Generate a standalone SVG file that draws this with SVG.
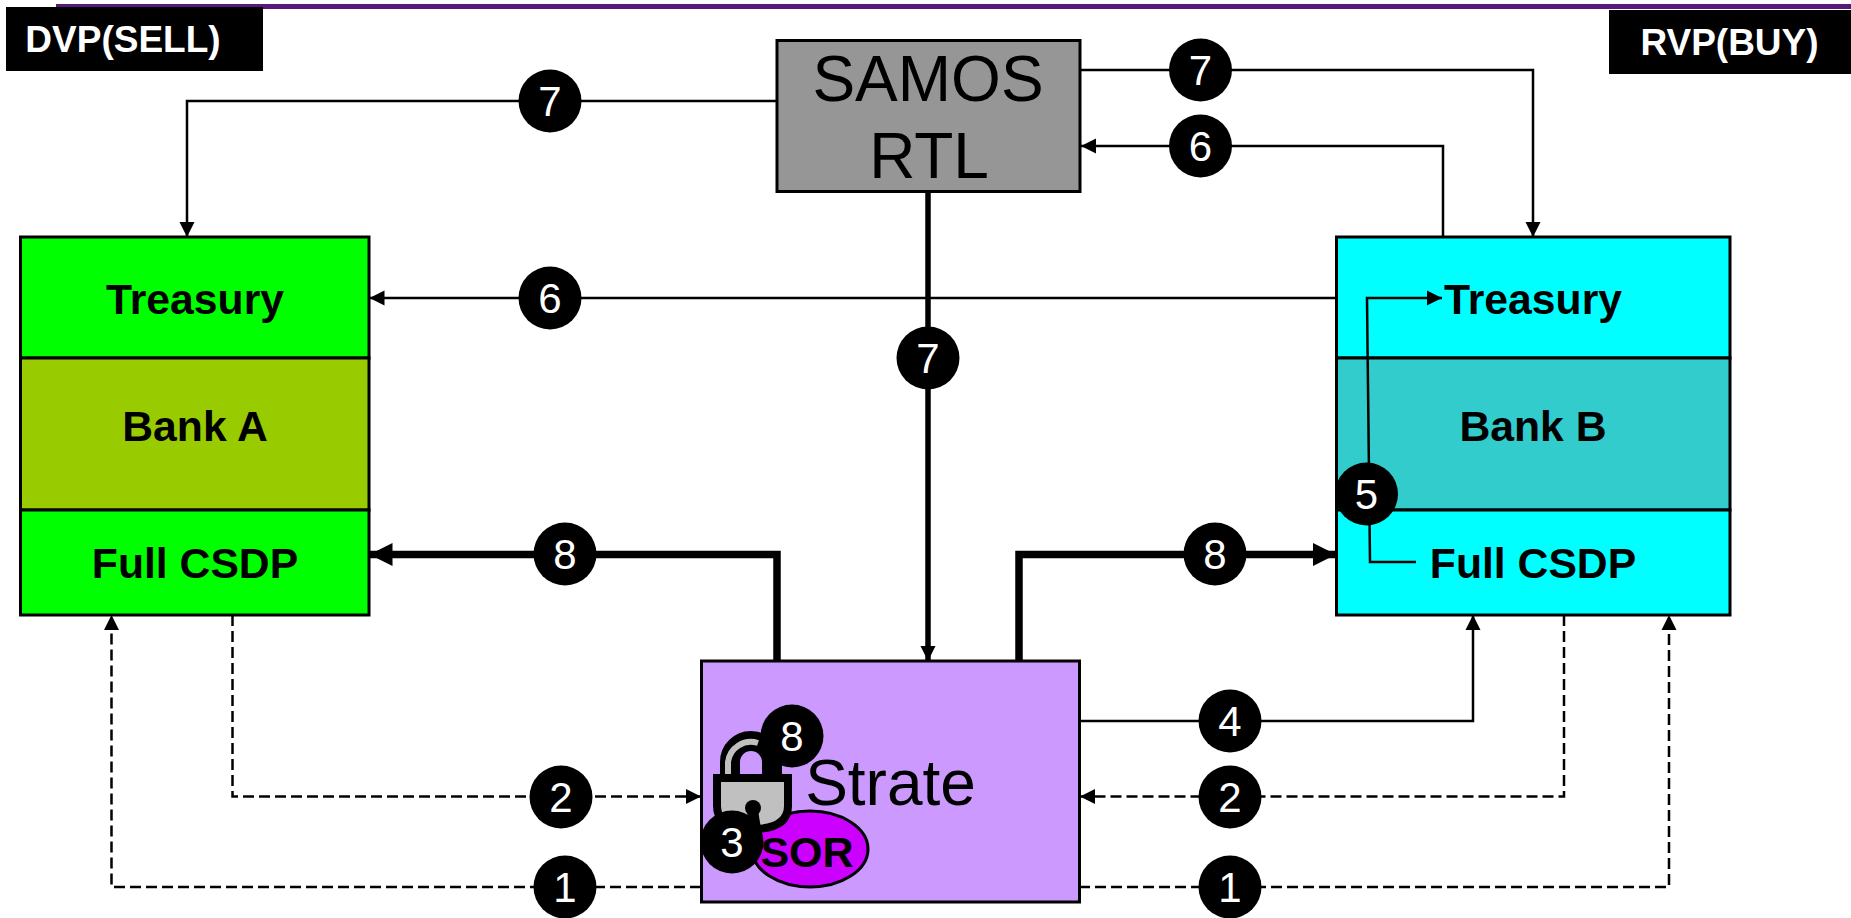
<svg xmlns="http://www.w3.org/2000/svg" width="1851" height="918" viewBox="0 0 1851 918">
<style>
text{font-family:"Liberation Sans",Arial,sans-serif;text-anchor:middle}
.b{font-weight:bold;font-size:42.7px;fill:#000}
.box{stroke:#000;stroke-width:3}
.tag{font-weight:bold;font-size:37px;fill:#fff}
.big{font-size:64px;fill:#000}
.n{font-size:42px;fill:#fff}
.c{fill:none;stroke:#000;stroke-width:2.5}
.m{fill:none;stroke:#000;stroke-width:5.5}
.t{fill:none;stroke:#000;stroke-width:7.5}
.d{fill:none;stroke:#000;stroke-width:2.5;stroke-dasharray:11 5}
</style>
<defs>
<marker id="a" markerUnits="userSpaceOnUse" markerWidth="15" markerHeight="16" refX="15" refY="8" orient="auto"><path d="M0 0.5L15 8L0 15.5Z" fill="#000"/></marker>
<marker id="at" markerUnits="userSpaceOnUse" markerWidth="24" markerHeight="24" refX="23" refY="12" orient="auto"><path d="M0 0.5L23 12L0 23.5Z" fill="#000"/></marker>
<g id="num"><circle r="31.5" fill="#000"/></g>
</defs>
<rect x="56" y="4" width="1795" height="5" fill="#551a77"/>
<g id="tag-dvp"><rect x="6" y="7" width="257" height="64" fill="#000"/><text class="tag" x="123" y="52">DVP(SELL)</text></g>
<g id="tag-rvp"><rect x="1609" y="10" width="242" height="64" fill="#000"/><text class="tag" x="1729.5" y="55">RVP(BUY)</text></g>
<g id="samos"><rect class="box" x="777" y="40.5" width="303" height="151" fill="#969696"/><text class="big" x="928" y="101">SAMOS</text><text class="big" x="929" y="178">RTL</text></g>
<g id="bank-a">
<rect class="box" x="20.5" y="237" width="348.500" height="121" fill="#0f0"/>
<rect class="box" x="20.5" y="358" width="348.500" height="152" fill="#9c0"/>
<rect class="box" x="20.5" y="510" width="348.500" height="105" fill="#0f0"/>
<text class="b" x="195" y="314">Treasury</text><text class="b" x="195" y="441">Bank A</text><text class="b" x="195" y="578">Full CSDP</text>
</g>
<g id="bank-b">
<rect class="box" x="1336.500" y="237" width="393.500" height="121" fill="#0ff"/>
<rect class="box" x="1336.500" y="358" width="393.500" height="152" fill="#3cc"/>
<rect class="box" x="1336.500" y="510" width="393.500" height="105" fill="#0ff"/>
<text class="b" x="1533" y="314">Treasury</text><text class="b" x="1533" y="441">Bank B</text><text class="b" x="1533" y="578">Full CSDP</text>
</g>
<g id="strate">
<rect class="box" x="701.500" y="661" width="378" height="241" fill="#c9f"/>
<ellipse cx="810" cy="849" rx="58" ry="38" fill="#c0f" stroke="#000" stroke-width="3"/>
<text x="807" y="867" font-size="43" font-weight="bold" fill="#000">SOR</text>
<text class="big" x="890.500" y="805">Strate</text>
</g>
<g id="lock">
<path d="M730 778V762a21 21 0 0 1 42 0V778" fill="none" stroke="#000" stroke-width="20"/>
<path d="M728 778V762a23 23 0 0 1 30 -19" fill="none" stroke="#c0c0c0" stroke-width="6"/>
<path d="M717 778H788V806Q788 829 752 829Q717 829 717 806Z" fill="#c0c0c0" stroke="#000" stroke-width="8"/>
<circle cx="753" cy="808" r="8" fill="#000"/><path d="M748 810L745 835H762L758 810Z" fill="#000"/>
</g>
<g id="connectors">
<path class="c" marker-end="url(#a)" d="M777 101H187V237"/>
<path class="c" marker-end="url(#a)" d="M1080 70H1533V237"/>
<path class="c" marker-end="url(#a)" d="M1443 237V146H1081"/>
<path class="c" marker-end="url(#a)" d="M1336 298H369.500"/>
<path class="c" marker-end="url(#a)" d="M1416 562H1370L1367 298H1442"/>
<path class="c" marker-end="url(#a)" d="M1079 721H1473V615"/>
<path class="m" marker-end="url(#a)" d="M928 191V661"/>
<path class="t" marker-end="url(#at)" d="M777 661V554.500H369.500"/>
<path class="t" marker-end="url(#at)" d="M1019 661V554.500H1336"/>
<path class="d" d="M232.500 615V796.500H701" marker-end="url(#a)"/>
<path class="d" marker-end="url(#a)" d="M1564 615V796.500H1080"/>
<path class="d" marker-end="url(#a)" d="M701 887H111.500V615"/>
<path class="d" marker-end="url(#a)" d="M1079 887H1669V615"/>
</g>
<g id="badges">
<use href="#num" x="550" y="101"/><text class="n" x="550" y="116">7</text>
<use href="#num" x="1200.500" y="70"/><text class="n" x="1200.500" y="85">7</text>
<use href="#num" x="1200.500" y="146"/><text class="n" x="1200.500" y="161">6</text>
<use href="#num" x="550" y="298"/><text class="n" x="550" y="313">6</text>
<use href="#num" x="928" y="358"/><text class="n" x="928" y="373">7</text>
<use href="#num" x="1366.500" y="494"/><text class="n" x="1366.500" y="509">5</text>
<use href="#num" x="565" y="554"/><text class="n" x="565" y="569">8</text>
<use href="#num" x="1215" y="554"/><text class="n" x="1215" y="569">8</text>
<use href="#num" x="1230" y="721"/><text class="n" x="1230" y="736">4</text>
<use href="#num" x="561" y="797"/><text class="n" x="561" y="812">2</text>
<use href="#num" x="1230" y="797"/><text class="n" x="1230" y="812">2</text>
<use href="#num" x="565" y="887"/><text class="n" x="565" y="902">1</text>
<use href="#num" x="1230" y="887"/><text class="n" x="1230" y="902">1</text>
<use href="#num" x="792" y="736"/><text class="n" x="792" y="751">8</text>
<use href="#num" x="732" y="842"/><text class="n" x="732" y="857">3</text>
</g>
</svg>
